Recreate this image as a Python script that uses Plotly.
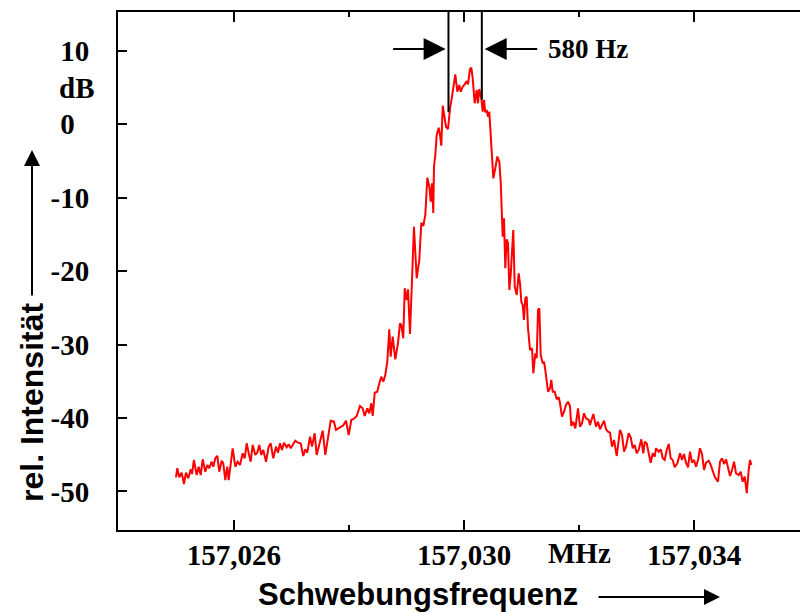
import plotly.graph_objects as go

# ---------------- data ----------------
# frequency offsets in kHz relative to 157,025 MHz
freq_offset_khz = [
    -0.009, 0.014, 0.049, 0.090, 0.130, 0.165, 0.205, 0.247, 0.270, 0.304,
    0.351, 0.386, 0.421, 0.456, 0.501, 0.536, 0.570, 0.612, 0.640, 0.675,
    0.710, 0.744, 0.786, 0.814, 0.849, 0.883, 0.908, 0.943, 0.977, 1.023,
    1.064, 1.104, 1.151, 1.186, 1.221, 1.256, 1.290, 1.325, 1.370, 1.405,
    1.440, 1.475, 1.510, 1.557, 1.603, 1.638, 1.683, 1.730, 1.765, 1.800,
    1.835, 1.870, 1.917, 1.951, 1.986, 2.021, 2.066, 2.113, 2.160, 2.205,
    2.240, 2.275, 2.322, 2.357, 2.403, 2.438, 2.483, 2.543, 2.588, 2.635,
    2.682, 2.739, 2.774, 2.843, 2.901, 2.948, 2.995, 3.040, 3.087, 3.134,
    3.191, 3.238, 3.273, 3.318, 3.353, 3.388, 3.412, 3.447, 3.492, 3.527,
    3.562, 3.597, 3.631, 3.666, 3.701, 3.725, 3.760, 3.805, 3.852, 3.887,
    3.910, 3.944, 3.969, 4.003, 4.026, 4.061, 4.096, 4.130, 4.177, 4.223,
    4.257, 4.292, 4.327, 4.362, 4.397, 4.421, 4.443, 4.466, 4.478, 4.501,
    4.525, 4.560, 4.583, 4.605, 4.630, 4.657, 4.687, 4.722, 4.757, 4.791,
    4.826, 4.849, 4.884, 4.918, 4.943, 4.977, 5.012, 5.047, 5.070, 5.104,
    5.127, 5.151, 5.186, 5.221, 5.243, 5.266, 5.301, 5.325, 5.348, 5.370,
    5.395, 5.417, 5.440, 5.464, 5.487, 5.510, 5.544, 5.579, 5.614, 5.638,
    5.673, 5.696, 5.718, 5.743, 5.765, 5.788, 5.812, 5.857, 5.882, 5.917,
    5.951, 5.974, 5.997, 6.021, 6.043, 6.066, 6.090, 6.113, 6.148, 6.183,
    6.205, 6.240, 6.264, 6.287, 6.310, 6.334, 6.369, 6.391, 6.414, 6.438,
    6.461, 6.496, 6.518, 6.543, 6.577, 6.612, 6.647, 6.670, 6.704, 6.739,
    6.774, 6.809, 6.843, 6.866, 6.901, 6.936, 6.983, 7.017, 7.052, 7.087,
    7.122, 7.169, 7.191, 7.249, 7.296, 7.330, 7.365, 7.400, 7.435, 7.470,
    7.504, 7.539, 7.574, 7.609, 7.656, 7.713, 7.748, 7.783, 7.817, 7.864,
    7.899, 7.934, 7.969, 8.003, 8.038, 8.083, 8.118, 8.143, 8.177, 8.212,
    8.247, 8.282, 8.317, 8.339, 8.386, 8.421, 8.456, 8.490, 8.525, 8.560,
    8.595, 8.630, 8.664, 8.710, 8.757, 8.791, 8.826, 8.861, 8.896, 8.930,
    8.965, 9.000, 9.035, 9.070, 9.104, 9.139, 9.174, 9.209, 9.256, 9.290,
    9.325, 9.360, 9.417, 9.452, 9.487, 9.522, 9.557, 9.591, 9.626, 9.661,
    9.696, 9.730, 9.777, 9.812, 9.847, 9.882, 9.917, 9.951, 9.974, 9.997,
]

level_db = [
    -48.07, -46.84, -48.07, -47.44, -48.98, -47.44, -48.20, -46.98, -47.62, -45.71,
    -47.76, -46.63, -47.76, -45.62, -47.31, -46.39, -46.84, -45.95, -46.63, -45.48,
    -45.17, -47.31, -45.81, -46.16, -48.44, -46.63, -48.44, -45.95, -44.12, -46.63,
    -45.95, -46.39, -44.80, -45.48, -43.44, -44.80, -45.95, -43.67, -45.03, -44.72,
    -43.67, -45.03, -44.35, -45.95, -43.90, -43.44, -45.48, -43.90, -44.72, -43.44,
    -44.35, -43.36, -43.99, -43.58, -44.12, -43.67, -43.09, -43.36, -43.44, -45.17,
    -44.26, -44.72, -42.54, -43.90, -42.08, -45.03, -43.44, -41.73, -45.03, -42.54,
    -40.37, -40.50, -41.63, -41.27, -40.99, -40.37, -42.31, -40.27, -40.10, -39.73,
    -38.37, -38.68, -39.73, -38.68, -39.36, -38.00, -39.73, -36.56, -36.42, -35.28,
    -34.38, -35.06, -34.15, -32.34, -27.93, -31.66, -28.94, -32.01, -29.84, -27.12,
    -27.35, -29.16, -22.35, -23.95, -22.49, -28.57, -20.78, -13.97, -20.99, -18.50,
    -13.43, -13.88, -12.38, -7.31, -8.53, -10.57, -8.07, -12.11, -5.81, -4.22,
    -1.50, -0.50, -1.50, -2.95, 2.49, 1.22, -0.37, -0.68, 2.14, 3.71,
    5.54, 6.76, 4.39, 5.31, 4.39, 5.07, 5.40, 5.85, 5.40, 7.48,
    7.66, 6.22, 2.82, 4.63, 2.82, 4.76, 3.50, 1.67, 3.27, 1.59,
    1.90, 0.99, 1.67, -1.27, -3.09, -7.39, -6.03, -4.42, -5.13, -7.85,
    -15.33, -12.83, -19.63, -15.69, -16.23, -22.59, -20.54, -14.42, -22.14, -23.27,
    -20.31, -21.67, -24.18, -24.63, -26.67, -23.71, -23.50, -27.80, -30.75, -30.52,
    -33.92, -31.20, -31.88, -25.31, -25.07, -31.43, -32.56, -32.34, -33.47, -34.83,
    -36.42, -35.96, -34.83, -36.42, -36.42, -37.46, -37.18, -38.00, -39.82, -39.14,
    -38.23, -37.78, -38.37, -41.09, -40.50, -41.41, -38.68, -41.18, -40.72, -39.36,
    -40.04, -40.27, -40.95, -39.46, -41.18, -40.50, -41.54, -40.95, -40.37, -41.54,
    -41.86, -42.00, -43.90, -42.99, -45.17, -41.63, -42.31, -44.59, -43.90, -42.08,
    -42.63, -44.12, -43.67, -44.80, -44.35, -42.90, -44.80, -43.22, -43.44, -44.80,
    -46.08, -44.80, -45.27, -44.12, -44.59, -44.26, -45.48, -45.71, -44.35, -43.54,
    -45.48, -45.71, -46.71, -46.16, -44.80, -45.71, -44.90, -46.08, -46.71, -44.59,
    -46.08, -45.71, -46.63, -45.71, -44.12, -44.90, -47.07, -46.08, -45.81, -46.39,
    -47.31, -47.99, -48.67, -45.95, -45.48, -46.26, -45.62, -46.63, -47.89, -47.07,
    -45.95, -47.52, -47.76, -47.31, -48.67, -47.99, -50.24, -47.07, -45.71, -46.39,
]

base_mhz = 157.025
freq_mhz = [base_mhz + k / 1000.0 for k in freq_offset_khz]

x_tick_vals = [157.026, 157.030, 157.034]
x_tick_text = ["157,026", "157,030", "157,034"]
x_minor_vals = [157.028, 157.032]
y_tick_vals = [10, 0, -10, -20, -30, -40, -50]
y_tick_text = ["10", "0\u2007", "-10", "-20", "-30", "-40", "-50"]

linewidth_marks = [157.02973, 157.03031]   # 580 Hz apart
linewidth_marks_bottom = [1.6, 3.3]
linewidth_label = "580 Hz"

x_range = [157.023983, 157.035843]
y_range = [-55.24, 15.24]

SERIF = "Liberation Serif"
SANS = "Liberation Sans"
TICK_SIZE = 29

fig = go.Figure()
fig.add_trace(go.Scatter(
    x=freq_mhz, y=level_db, mode="lines",
    line=dict(color="#ff0000", width=2), hoverinfo="skip", showlegend=False,
))

fig.update_layout(
    width=800, height=612,
    margin=dict(l=118, r=0, t=12, b=82),
    paper_bgcolor="white", plot_bgcolor="white",
    showlegend=False,
    xaxis=dict(
        range=x_range, showgrid=False, zeroline=False, automargin=False,
        showline=True, linecolor="black", linewidth=2, mirror="ticks",
        ticks="inside", ticklen=10, tickwidth=2, tickcolor="black",
        tickvals=x_tick_vals, ticktext=x_tick_text,
        tickfont=dict(family=SERIF, size=TICK_SIZE, color="black", weight="bold"),
        ticklabelstandoff=-2,
        minor=dict(tickvals=x_minor_vals, ticks="inside", ticklen=5,
                   tickwidth=2, tickcolor="black"),
    ),
    yaxis=dict(
        range=y_range, showgrid=False, zeroline=False, automargin=False,
        showline=True, linecolor="black", linewidth=2, mirror=False,
        ticks="inside", ticklen=9, tickwidth=2, tickcolor="black",
        tickvals=y_tick_vals, ticktext=y_tick_text,
        tickfont=dict(family=SERIF, size=TICK_SIZE, color="black", weight="bold"),
        ticklabelstandoff=21,
    ),
)

# 580 Hz marker lines
for xm, yb in zip(linewidth_marks, linewidth_marks_bottom):
    fig.add_shape(type="line", xref="x", yref="paper",
                  x0=xm, x1=xm, y0=(yb - y_range[0]) / (y_range[1] - y_range[0]), y1=1,
                  line=dict(color="black", width=2))

arrow_y = 10.2
fig.add_annotation(x=linewidth_marks[0] - 0.00005, y=arrow_y, xref="x", yref="y",
                   text="", showarrow=True, ax=-54, ay=0,
                   arrowhead=2, arrowsize=2.2, arrowwidth=2, arrowcolor="black")
fig.add_annotation(x=linewidth_marks[1] + 0.00005, y=arrow_y, xref="x", yref="y",
                   text="", showarrow=True, ax=54, ay=0,
                   arrowhead=2, arrowsize=2.2, arrowwidth=2, arrowcolor="black")
fig.add_annotation(x=157.031426, y=arrow_y, xref="x", yref="y",
                   text=linewidth_label, showarrow=False, xanchor="left", yanchor="middle",
                   font=dict(family=SERIF, size=27, color="black", weight="bold"))

# dB unit label
fig.add_annotation(x=0, y=4.9, xref="paper", yref="y", text="dB", showarrow=False,
                   xanchor="center", yanchor="middle", xshift=-42,
                   font=dict(family=SERIF, size=TICK_SIZE, color="black", weight="bold"))
# MHz unit label
fig.add_annotation(x=157.032, y=(530 - 553) / 518, xref="x", yref="paper", text="MHz",
                   showarrow=False, xanchor="center", yanchor="middle",
                   font=dict(family=SERIF, size=TICK_SIZE, color="black", weight="bold"))

# axis titles with arrows
fig.add_annotation(x=(32 - 118) / 682, y=(530 - 402) / 518, xref="paper", yref="paper",
                   text="rel. Intensität", textangle=-90, showarrow=False,
                   xanchor="center", yanchor="middle",
                   font=dict(family=SANS, size=32, color="black", weight="bold"))
fig.add_annotation(x=(32 - 118) / 682, y=(530 - 150) / 518, xref="paper", yref="paper",
                   text="", showarrow=True, ax=0, ay=147,
                   arrowhead=2, arrowsize=1.6, arrowwidth=2, arrowcolor="black")
fig.add_annotation(x=(418 - 118) / 682, y=(530 - 594) / 518, xref="paper", yref="paper",
                   text="Schwebungsfrequenz", showarrow=False,
                   xanchor="center", yanchor="middle",
                   font=dict(family=SANS, size=31, color="black", weight="bold"))
fig.add_annotation(x=(720 - 118) / 682, y=(530 - 597) / 518, xref="paper", yref="paper",
                   text="", showarrow=True, ax=-123, ay=0,
                   arrowhead=2, arrowsize=1.6, arrowwidth=2, arrowcolor="black")

fig.write_html("out.html", post_script="document.body.style.margin='0px';",
               config={"displayModeBar": False})
